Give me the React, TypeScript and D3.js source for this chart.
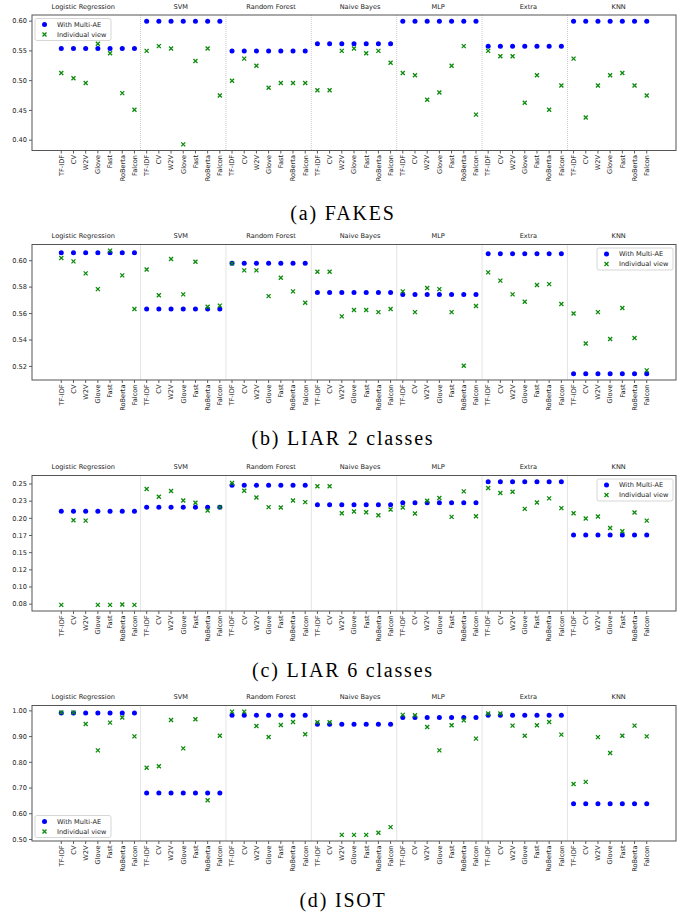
import React from "react";
import * as d3 from "d3";

const classifiers = ["Logistic Regression", "SVM", "Random Forest", "Naive Bayes", "MLP", "Extra", "KNN"];
const features = ["TF-IDF", "CV", "W2V", "Glove", "Fast", "RoBerta", "Falcon"];

// FAKES
const fakesMultiAE = [0.554, 0.6, 0.55, 0.562, 0.6, 0.558, 0.6];
const fakesIndividual = [
  [0.513, 0.504, 0.496, 0.562, 0.546, 0.479, 0.451],
  [0.55, 0.558, 0.554, 0.393, 0.533, 0.554, 0.475],
  [0.5, 0.537, 0.525, 0.488, 0.496, 0.496, 0.496],
  [0.484, 0.484, 0.55, 0.554, 0.546, 0.55, 0.53],
  [0.513, 0.509, 0.468, 0.48, 0.525, 0.558, 0.443],
  [0.55, 0.541, 0.541, 0.463, 0.509, 0.451, 0.492],
  [0.537, 0.438, 0.492, 0.509, 0.513, 0.492, 0.475],
];
const fakesTicks = [0.4, 0.45, 0.5, 0.55, 0.6];
const fakesTickLabels = ["0.40", "0.45", "0.50", "0.55", "0.60"];

// LIAR 2 classes
const liar2MultiAE = [0.6061, 0.5634, 0.598, 0.576, 0.5745, 0.6053, 0.5144];
const liar2Individual = [
  [0.602, 0.5995, 0.5904, 0.5785, 0.6076, 0.5889, 0.5634],
  [0.5934, 0.5738, 0.6013, 0.5745, 0.5992, 0.5652, 0.566],
  [0.598, 0.5927, 0.5927, 0.5732, 0.5871, 0.5768, 0.5682],
  [0.5917, 0.5917, 0.5579, 0.5627, 0.5627, 0.5611, 0.5634],
  [0.5768, 0.5611, 0.5793, 0.5785, 0.5611, 0.5205, 0.5657],
  [0.5912, 0.5849, 0.5745, 0.569, 0.5816, 0.5823, 0.5672],
  [0.5601, 0.5374, 0.5611, 0.5407, 0.5642, 0.5415, 0.517],
];
const liar2Ticks = [0.52, 0.54, 0.56, 0.58, 0.6];
const liar2TickLabels = ["0.52", "0.54", "0.56", "0.58", "0.60"];

// LIAR 6 classes
const liar6MultiAE = [0.2104, 0.2163, 0.248, 0.2197, 0.2226, 0.2534, 0.1757];
const liar6Individual = [
  [0.074, 0.1972, 0.1967, 0.074, 0.074, 0.0745, 0.074],
  [0.2427, 0.2314, 0.2397, 0.226, 0.2226, 0.2114, 0.2163],
  [0.2515, 0.2402, 0.2304, 0.2163, 0.2158, 0.226, 0.2236],
  [0.2466, 0.2466, 0.2075, 0.2099, 0.2089, 0.2045, 0.2128],
  [0.2158, 0.207, 0.2256, 0.2295, 0.2021, 0.2392, 0.2031],
  [0.2441, 0.2368, 0.2388, 0.2138, 0.2231, 0.229, 0.2148],
  [0.2075, 0.1997, 0.2026, 0.186, 0.1811, 0.2084, 0.1967],
];
const liar6Ticks = [0.075, 0.1, 0.125, 0.15, 0.175, 0.2, 0.225, 0.25];
const liar6TickLabels = ["0.08", "0.10", "0.12", "0.15", "0.17", "0.20", "0.23", "0.25"];

// ISOT
const isotMultiAE = [0.9922, 0.681, 0.983, 0.948, 0.974, 0.983, 0.6393];
const isotIndividual = [
  [0.9935, 0.9935, 0.949, 0.8464, 0.9544, 0.974, 0.901],
  [0.7786, 0.785, 0.9648, 0.8542, 0.9674, 0.6523, 0.9036],
  [0.997, 0.997, 0.9414, 0.8984, 0.9453, 0.957, 0.9089],
  [0.9557, 0.9557, 0.518, 0.518, 0.518, 0.526, 0.548],
  [0.9844, 0.983, 0.9375, 0.8464, 0.944, 0.9635, 0.892],
  [0.9896, 0.9896, 0.9427, 0.9036, 0.944, 0.957, 0.9076],
  [0.716, 0.724, 0.898, 0.836, 0.9036, 0.9427, 0.901],
];
const isotTicks = [0.5, 0.6, 0.7, 0.8, 0.9, 1.0];
const isotTickLabels = ["0.50", "0.60", "0.70", "0.80", "0.90", "1.00"];

// where the classifier names sit above each block, in x-index units
const titleIdx = [1.8, 9.8, 17.2, 24.5, 30.9, 38.3, 45.7];

const FONT = "DejaVu Sans, sans-serif";
const LEFT = 32;
const RIGHT = 676;
const PH = 135.5;
const BLUE = "#0000ff";
const GREEN = "#0a8a0a";

type PanelProps = {
  top: number;
  multi: number[];
  indiv: number[][];
  ticks: number[];
  tickLabels: string[];
  legend: "ul" | "ur" | "ll";
  caption: string;
  captionY: number;
};

function Panel({ top, multi, indiv, ticks, tickLabels, legend, caption, captionY }: PanelProps) {
  const n = classifiers.length * features.length;
  const bottom = top + PH;
  const x = d3
    .scaleLinear()
    .domain([-0.05 * (n - 1), (n - 1) * 1.05])
    .range([LEFT, RIGHT]);
  const all = [...multi, ...indiv.flat()];
  const lo = d3.min(all)!;
  const hi = d3.max(all)!;
  const pad = 0.05 * (hi - lo);
  const y = d3.scaleLinear().domain([lo - pad, hi + pad]).range([bottom, top]);

  const multiPts = multi.flatMap((v, g) => features.map((_, f) => ({ i: g * 7 + f, v })));
  const indivPts = indiv.flatMap((row, g) => row.map((v, f) => ({ i: g * 7 + f, v })));

  const lw = 76;
  const lh = 22;
  const lx = legend === "ur" ? RIGHT - 3 - lw : LEFT + 3;
  const ly = legend === "ll" ? bottom - 3.5 - lh : top + 3.5;

  const cross = (cx: number, cy: number, key: string) => (
    <path
      key={key}
      d={`M${cx - 2},${cy - 2}L${cx + 2},${cy + 2}M${cx - 2},${cy + 2}L${cx + 2},${cy - 2}`}
      stroke={GREEN}
      strokeWidth={1.3}
      fill="none"
    />
  );

  return (
    <g fontFamily={FONT} fontSize={6.6} fill="#222">
      {classifiers.map((c, g) => (
        <text key={c} x={x(titleIdx[g])} y={top - 6.5} textAnchor="middle">
          {c}
        </text>
      ))}
      {d3.range(1, classifiers.length).map((g) => (
        <line
          key={g}
          x1={x(g * 7 - 0.5)}
          x2={x(g * 7 - 0.5)}
          y1={top}
          y2={bottom}
          stroke="#bbbbbb"
          strokeWidth={0.8}
          strokeDasharray="1,1"
        />
      ))}
      {ticks.map((t, k) => (
        <g key={t}>
          <line x1={LEFT - 3} x2={LEFT} y1={y(t)} y2={y(t)} stroke="#333" strokeWidth={0.8} />
          <text x={LEFT - 5} y={y(t)} dy="0.35em" textAnchor="end">
            {tickLabels[k]}
          </text>
        </g>
      ))}
      {d3.range(n).map((i) => (
        <g key={i}>
          <line x1={x(i)} x2={x(i)} y1={bottom} y2={bottom + 3} stroke="#333" strokeWidth={0.8} />
          <text
            transform={`translate(${x(i)},${bottom + 4.5}) rotate(-90)`}
            dy="0.35em"
            textAnchor="end"
          >
            {features[i % 7]}
          </text>
        </g>
      ))}
      {multiPts.map((p, k) => (
        <circle key={"m" + k} cx={x(p.i)} cy={y(p.v)} r={2.5} fill={BLUE} />
      ))}
      {indivPts.map((p, k) => cross(x(p.i), y(p.v), "x" + k))}
      <rect x={LEFT} y={top} width={RIGHT - LEFT} height={PH} fill="none" stroke="#555" strokeWidth={1} />
      <g>
        <rect x={lx} y={ly} width={lw} height={lh} rx={2} fill="white" fillOpacity={0.8} stroke="#cccccc" strokeWidth={0.8} />
        <circle cx={lx + 9.5} cy={ly + 6} r={2.5} fill={BLUE} />
        {cross(lx + 9.5, ly + 16, "lg")}
        <text x={lx + 22} y={ly + 6} dy="0.35em">
          With Multi-AE
        </text>
        <text x={lx + 22} y={ly + 16} dy="0.35em">
          Individual view
        </text>
      </g>
      <text
        x={343}
        y={captionY}
        textAnchor="middle"
        fontFamily="Liberation Serif, Times New Roman, serif"
        fontSize={20}
        letterSpacing={1.8}
        fill="#000"
      >
        {caption}
      </text>
    </g>
  );
}

export default function App() {
  return (
    <svg
      width={692}
      height={920}
      viewBox="0 0 692 920"
      style={{ position: "absolute", left: 0, top: 0, background: "white" }}
    >
      <rect width={692} height={920} fill="white" />
      <Panel top={15} multi={fakesMultiAE} indiv={fakesIndividual} ticks={fakesTicks} tickLabels={fakesTickLabels} legend="ul" caption="(a) FAKES" captionY={220} />
      <Panel top={244.5} multi={liar2MultiAE} indiv={liar2Individual} ticks={liar2Ticks} tickLabels={liar2TickLabels} legend="ur" caption="(b) LIAR 2 classes" captionY={445} />
      <Panel top={475.5} multi={liar6MultiAE} indiv={liar6Individual} ticks={liar6Ticks} tickLabels={liar6TickLabels} legend="ur" caption="(c) LIAR 6 classes" captionY={677} />
      <Panel top={705.5} multi={isotMultiAE} indiv={isotIndividual} ticks={isotTicks} tickLabels={isotTickLabels} legend="ll" caption="(d) ISOT" captionY={907} />
    </svg>
  );
}
